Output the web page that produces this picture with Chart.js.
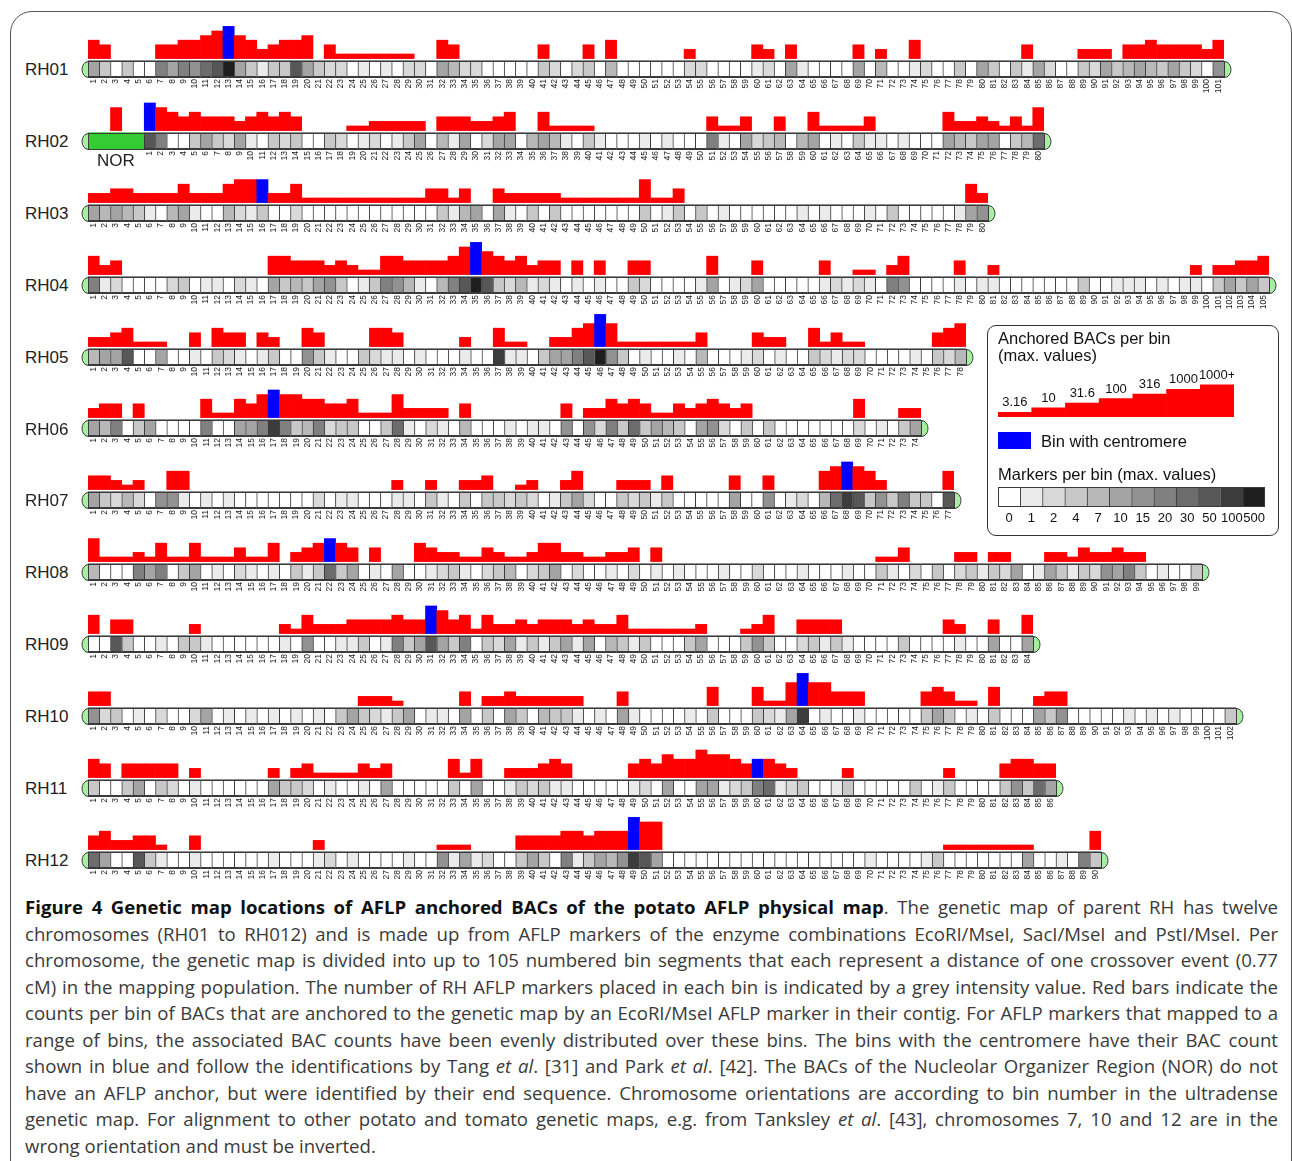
<!DOCTYPE html>
<html>
<head>
<meta charset="utf-8">
<script src="https://cdn.jsdelivr.net/npm/chart.js@4.4.0/dist/chart.umd.min.js"></script>
<style>
  html, body { margin:0; padding:0; background:#fff; }
  body { width:1292px; height:1161px; position:relative; overflow:hidden; font-family:"Liberation Sans", Arial, sans-serif; }
  .frame { position:absolute; left:10px; top:11px; width:1282px; height:1300px; border:1.5px solid #555; border-radius:22px; box-sizing:border-box; }
  .row { position:absolute; left:80px; }
  .rlab { position:absolute; left:25px; font-size:17px; line-height:20px; color:#222; }
  .nor { position:absolute; left:97px; top:151px; font-size:17px; line-height:20px; color:#222; }
  .legend { position:absolute; left:987px; top:325px; width:292px; height:211px; border:1.5px solid #333; border-radius:9px; box-sizing:border-box; }
  .ltxt { position:absolute; font-size:16.5px; line-height:18px; color:#111; white-space:nowrap; }
  .cap { position:absolute; left:25px; top:894px; width:1253px; font-family:"Open Sans", sans-serif; font-size:18.6px; line-height:26.55px; color:#3a3a3a; }
  .cap div { text-align:justify; text-align-last:justify; white-space:nowrap; }
  .cap div.last { text-align-last:left; }
  .cap b { color:#111; }
</style>
</head>
<body>
<div class="frame"></div>
<div id="rows"></div>
<div class="nor">NOR</div>

<div class="legend"></div>
<div class="ltxt" style="left:998px;top:329px;">Anchored BACs per bin</div>
<div class="ltxt" style="left:998px;top:346px;">(max. values)</div>
<canvas id="legBars" style="position:absolute;left:998px;top:360px;"></canvas>
<div style="position:absolute;left:998px;top:432px;width:33px;height:17px;background:#0000ff;"></div>
<div class="ltxt" style="left:1041px;top:432px;">Bin with centromere</div>
<div class="ltxt" style="left:998px;top:465px;">Markers per bin (max. values)</div>
<canvas id="legGrey" style="position:absolute;left:997px;top:487px;"></canvas>

<div class="cap">
  <div><b>Figure 4 Genetic map locations of AFLP anchored BACs of the potato AFLP physical map</b>. The genetic map of parent RH has twelve</div>
  <div>chromosomes (RH01 to RH012) and is made up from AFLP markers of the enzyme combinations EcoRI/MseI, SacI/MseI and PstI/MseI. Per</div>
  <div>chromosome, the genetic map is divided into up to 105 numbered bin segments that each represent a distance of one crossover event (0.77</div>
  <div>cM) in the mapping population. The number of RH AFLP markers placed in each bin is indicated by a grey intensity value. Red bars indicate the</div>
  <div>counts per bin of BACs that are anchored to the genetic map by an EcoRI/MseI AFLP marker in their contig. For AFLP markers that mapped to a</div>
  <div>range of bins, the associated BAC counts have been evenly distributed over these bins. The bins with the centromere have their BAC count</div>
  <div>shown in blue and follow the identifications by Tang <i>et al</i>. [31] and Park <i>et al</i>. [42]. The BACs of the Nucleolar Organizer Region (NOR) do not</div>
  <div>have an AFLP anchor, but were identified by their end sequence. Chromosome orientations are according to bin number in the ultradense</div>
  <div>genetic map. For alignment to other potato and tomato genetic maps, e.g. from Tanksley <i>et al</i>. [43], chromosomes 7, 10 and 12 are in the</div>
  <div class="last">wrong orientation and must be inverted.</div>
</div>

<script>
// BAC count class per bin (0 = none, 1..7 = 3.16 .. 1000+), marker class per bin (0..11 = 0 .. 500)
var chromosomes = ["RH01","RH02","RH03","RH04","RH05","RH06","RH07","RH08","RH09","RH10","RH11","RH12"];
var centromereBins = [13, 1, 16, 35, 46, 17, 68, 22, 31, 64, 60, 49];
var norBars = [0,0,5,0,0];

var rh01Bars = [4,3,0,0,0,0,3,3,4,4, 5,6,7,5,4,2,3,4,4,5, 0,3,1,1,1,1,1,1,1,0, 0,4,3,0,0,0,0,0,0,0,
  3,0,0,0,3,0,4,0,0,0, 0,0,0,2,0,0,0,0,0,3, 2,0,3,0,0,0,0,0,3,0, 2,0,0,4,0,0,0,0,0,0,
  0,0,0,3,0,0,0,0,2,2, 2,0,3,3,4,3,3,3,3,2, 4];
var rh01Markers = [5,3,0,3,0,0,7,5,7,6, 8,9,11,5,3,1,3,3,9,5, 3,2,2,0,1,0,1,0,2,2, 0,5,4,2,2,0,0,0,0,0,
  3,2,0,2,3,0,4,0,0,0, 0,0,0,2,2,0,0,0,0,1, 2,0,5,1,0,0,0,0,5,0, 4,0,0,1,2,0,0,3,0,5,
  3,0,3,1,5,2,0,0,3,2, 5,3,4,5,4,3,5,3,2,0, 6];

var rh02Bars = [6,5,4,3,4,3,3,3,2,3, 4,3,4,3,0,0,0,0,1,1, 2,2,2,2,2,0,3,3,3,2, 2,3,4,0,0,4,1,1,1,1,
  0,0,0,0,0,0,0,0,0,0, 3,1,1,3,0,0,3,0,0,4, 1,1,1,1,3,0,0,0,0,0, 0,4,2,2,3,2,1,3,1,5];
var rh02Markers = [9,7,0,0,3,5,3,2,5,1, 0,3,2,3,0,0,3,2,0,1, 2,0,1,3,5,0,4,1,5,0, 2,5,5,0,4,5,4,1,0,3,
  1,0,0,0,1,0,1,0,0,0, 7,1,0,5,2,3,4,0,4,5, 0,1,0,3,1,1,0,1,0,0, 0,5,4,3,5,5,0,3,4,8];

var rh03Bars = [2,2,3,3,2,2,2,2,4,2, 2,2,4,5,5,5,2,2,4,1, 1,1,1,1,1,1,1,1,1,1, 3,3,1,3,0,0,3,2,2,2,
  2,2,1,1,1,1,1,1,1,5, 1,1,3,0,0,0,0,0,0,0, 0,0,0,0,0,0,0,0,0,0, 0,0,0,0,0,0,0,0,4,2];
var rh03Markers = [5,4,5,4,3,1,0,4,5,1, 0,0,4,2,1,3,0,0,2,0, 0,0,0,0,0,0,0,0,0,0, 0,3,1,4,5,0,5,1,0,3,
  0,3,0,0,0,0,0,0,0,3, 0,1,3,0,3,0,1,0,0,0, 0,0,0,1,0,1,0,0,0,1, 0,3,0,0,0,0,0,1,5,6];

var rh04Bars = [4,2,3,0,0,0,0,0,0,0, 0,0,0,0,0,0,4,4,3,3, 3,2,3,2,1,1,4,4,3,3, 3,3,4,6,7,5,4,3,4,2,
  3,3,0,3,0,3,0,0,3,3, 0,0,0,0,0,4,0,0,0,3, 0,0,0,0,0,3,0,0,1,1, 0,2,4,0,0,0,0,3,0,0,
  2,0,0,0,0,0,0,0,0,0, 0,0,0,0,0,0,0,0,2,0, 2,2,3,3,4];
var rh04Markers = [7,1,2,0,0,0,0,2,3,0, 1,1,0,2,1,0,5,3,4,3, 5,6,3,0,1,3,7,6,4,1, 0,4,7,9,11,9,3,2,4,1,
  2,1,0,1,0,1,0,0,3,2, 0,0,0,0,1,5,0,1,2,5, 0,0,0,0,0,1,2,1,2,1, 0,7,6,0,0,0,0,1,0,1,
  1,0,0,0,0,0,0,0,3,0, 0,1,1,1,0,1,0,1,1,0, 3,5,3,5,3];

var rh05Bars = [2,2,3,4,1,1,1,0,0,3, 0,4,3,3,0,3,2,0,0,4, 3,0,0,0,0,4,4,3,0,0, 0,0,0,2,0,0,4,1,1,0,
  0,2,2,4,5,7,5,1,1,1, 1,1,1,1,3,0,0,0,0,3, 2,2,0,0,4,1,3,1,1,0, 0,0,0,0,0,3,4,5];
var rh05Markers = [4,5,5,9,0,0,5,0,0,1, 0,3,2,1,0,1,3,0,0,6, 3,1,0,0,3,2,1,1,0,1, 0,0,0,1,0,0,10,1,1,0,
  3,5,5,7,9,11,6,3,0,1, 0,0,1,0,4,0,0,0,1,2, 0,1,0,0,3,2,1,2,2,0, 0,0,0,1,0,3,2,4];

var rh06Bars = [2,3,3,0,3,0,0,0,0,0, 4,1,1,4,3,5,6,5,5,4, 4,3,3,4,1,1,1,5,2,2, 2,2,0,3,0,0,0,0,0,0,
  0,0,3,0,2,2,4,3,4,3, 1,1,3,2,3,4,3,2,3,0, 0,0,0,0,0,0,0,0,4,0, 0,0,2,2];
var rh06Markers = [5,4,7,0,3,5,0,0,0,0, 7,0,0,5,5,7,10,7,3,4, 7,2,3,3,0,0,3,8,1,0, 2,1,0,4,0,0,0,1,0,1,
  1,0,6,0,6,2,7,3,8,3, 5,4,3,0,5,6,2,0,3,0, 3,0,0,0,0,0,0,0,2,0, 1,0,3,5];

var rh07Bars = [3,3,2,1,2,0,0,4,4,0, 0,0,0,0,0,0,0,0,0,0, 0,0,0,0,0,0,0,2,0,0, 2,0,0,2,2,3,0,0,1,2,
  0,0,2,4,0,0,0,2,2,2, 0,3,0,0,0,0,0,3,0,0, 3,0,0,0,0,4,5,6,5,4, 2,0,0,0,0,0,4];
var rh07Markers = [5,3,2,4,2,0,6,6,1,0, 1,0,1,0,0,0,0,0,0,0, 2,0,1,1,0,0,0,1,1,0, 3,1,0,3,0,3,3,2,3,2,
  0,1,3,5,2,0,0,3,2,3, 1,3,0,0,0,0,0,5,0,0, 6,0,1,2,0,4,8,10,9,3, 6,3,7,3,3,0,9];

var rh08Bars = [5,1,1,1,2,1,4,1,1,4, 1,1,1,3,1,1,4,0,2,3, 4,5,4,3,0,3,0,0,0,4, 3,2,2,1,1,3,2,1,1,2,
  4,4,2,2,1,1,2,2,3,0, 3,0,0,0,0,0,0,0,0,0, 0,0,0,0,0,0,0,0,0,0, 1,1,3,0,0,0,0,2,2,0,
  2,2,0,0,0,2,2,1,3,2, 2,3,2,2,0,0,0,0,0];
var rh08Markers = [4,0,0,0,7,5,7,0,3,5, 0,1,0,2,1,0,1,0,3,1, 3,8,3,5,0,1,0,5,0,0, 1,2,3,1,0,2,3,4,0,2,
  3,5,0,2,0,0,1,0,2,0, 1,0,1,0,0,0,1,0,0,2, 0,0,0,1,0,0,0,1,0,0, 3,1,0,2,0,3,0,2,3,1,
  3,2,5,0,1,5,3,1,3,2, 6,5,7,3,0,1,0,0,3];

var rh09Bars = [4,0,3,3,0,0,0,0,0,2, 0,0,0,0,0,0,0,2,1,4, 2,2,2,3,3,3,3,4,3,3, 6,5,3,4,1,4,2,2,3,2,
  3,3,3,2,3,2,2,4,1,1, 1,1,1,1,2,0,0,0,1,2, 4,0,0,3,3,3,3,0,0,0, 0,0,0,0,0,0,3,2,0,0, 3,0,0,4];
var rh09Markers = [0,0,9,3,0,0,1,0,3,3, 1,0,0,0,0,0,0,1,0,6, 0,0,1,1,3,0,1,7,3,5, 9,5,3,7,0,3,2,5,1,3,
  1,3,5,1,5,0,4,3,1,3, 0,0,0,3,5,0,0,0,3,6, 3,0,0,2,3,1,3,1,0,0, 0,0,3,0,0,0,0,1,0,0, 5,0,0,5];

var rh10Bars = [3,3,0,0,0,0,0,0,0,0, 0,0,0,0,0,0,0,0,0,0, 0,0,0,0,2,2,2,1,0,0, 0,0,0,3,0,2,2,3,2,2,
  2,2,2,2,0,0,0,3,0,0, 0,0,0,0,0,4,0,0,0,4, 1,1,5,7,5,5,3,3,3,0, 0,0,0,0,3,4,3,1,1,0,
  4,0,0,0,2,3,3,0,0,0, 0,0,0,0,0,0,0,0,0,0, 0,0];
var rh10Markers = [6,2,3,0,1,0,2,0,0,2, 5,0,1,0,1,0,1,0,1,0, 1,0,3,5,3,2,1,3,5,0, 1,1,0,5,0,3,0,5,3,0,
  4,3,3,1,0,1,0,5,1,0, 0,0,0,1,0,3,0,0,0,3, 2,1,5,10,0,1,0,0,1,0, 0,0,0,0,3,5,3,0,1,0,
  3,0,0,0,5,3,6,0,0,0, 0,0,1,0,1,0,1,0,0,0, 0,3];

var rh11Bars = [4,3,0,3,3,3,3,3,0,2, 0,0,0,0,0,0,2,0,2,3, 1,1,1,1,3,2,3,0,0,0, 0,0,4,1,4,0,0,2,2,2,
  3,4,3,0,0,0,0,0,3,4, 3,5,4,4,6,5,5,4,3,4, 4,3,2,0,0,0,0,2,0,0, 0,0,0,0,0,0,2,0,0,0, 0,3,4,4,3,3];
var rh11Markers = [3,0,0,3,5,0,3,2,0,1, 0,0,0,0,0,0,5,3,3,2, 0,1,0,0,1,0,5,0,0,0, 0,0,3,0,5,0,0,1,3,2,
  3,1,1,0,0,0,0,0,1,2, 0,5,0,0,5,5,1,2,3,7, 8,1,2,3,0,0,1,3,0,0, 0,0,0,3,0,1,3,0,0,0, 0,3,6,3,8,5];

var rh12Bars = [3,4,2,2,3,3,1,0,0,3, 0,0,0,0,0,0,0,0,0,0, 2,0,0,0,0,0,0,0,0,0, 0,1,1,1,0,0,0,0,3,3,
  3,3,4,4,3,4,4,4,7,6, 6,0,0,0,0,0,0,0,0,0, 0,0,0,0,0,0,0,0,0,0, 0,0,0,0,0,0,1,1,1,1, 1,1,1,1,0,0,0,0,0,4];
var rh12Markers = [8,5,0,0,9,3,1,0,0,1, 0,0,0,0,0,0,1,0,0,0, 1,2,0,1,0,0,0,0,1,0, 0,6,1,5,1,2,0,0,3,5,
  3,0,7,1,3,5,4,6,10,9, 5,0,0,0,0,0,0,0,0,0, 0,0,0,0,0,0,0,0,0,1, 0,0,0,0,1,3,0,0,0,0, 0,0,0,5,0,0,1,0,7,3];

var barLevelLabels = ["3.16","10","31.6","100","316","1000","1000+"];
var barLevels = [1,2,3,4,5,6,7];
var markerClassLabels = ["0","1","2","4","7","10","15","20","30","50","100","500"];
var markerClasses = [0,1,2,3,4,5,6,7,8,9,10,11];

var allBars = [rh01Bars,rh02Bars,rh03Bars,rh04Bars,rh05Bars,rh06Bars,rh07Bars,rh08Bars,rh09Bars,rh10Bars,rh11Bars,rh12Bars];
var allMarkers = [rh01Markers,rh02Markers,rh03Markers,rh04Markers,rh05Markers,rh06Markers,rh07Markers,rh08Markers,rh09Markers,rh10Markers,rh11Markers,rh12Markers];

var RED = "#ff0000", BLUE = "#0000ff", NOR_GREEN = "#33cc33", CAP_GREEN = "#a4f0a0", OUTLINE = "#3a3a3a";
var GREYS = ["#ffffff","#ebebeb","#d9d9d9","#c8c8c8","#b8b8b8","#a4a4a4","#929292","#808080","#6c6c6c","#575757","#3c3c3c","#1e1e1e"];

var BIN_W = 11.25, CAP = 8, LV = 4.6;          // px per bin, end cap width, px per count class
var YMAX = 7.3, YMIN = -4.0, CELL_HI = -0.45, CELL_LO = -3.92;
var ROW_Y0 = 58.5, ROW_STEP = 71.9, ROW_H = 72, PAD_TOP = 2;

Chart.defaults.font.family = '"Liberation Sans", Arial, sans-serif';
Chart.defaults.animation = false;

// rounded green ends, the NOR block and the outline of the chromosome bar
var chromCaps = {
  id: "chromCaps",
  afterDatasetsDraw: function(chart, args, opts){
    var ca = chart.chartArea, ys = chart.scales.y, xs = chart.scales.x, c = chart.ctx;
    var t = Math.round(ys.getPixelForValue(CELL_HI)) + 0.5, b = Math.round(ys.getPixelForValue(CELL_LO)) + 0.5;
    var mid = (t+b)/2, ry = (b-t)/2, rx = CAP - 1.5;
    var l = Math.round(ca.left) + 0.5, r = Math.round(ca.right) + 0.5;
    c.save();
    if (opts.nor > 0){
      var nr = Math.round(xs.getPixelForValue(opts.nor - 0.5)) + 0.5;
      c.fillStyle = NOR_GREEN;
      c.fillRect(l, t, nr - l, b - t);
      c.strokeStyle = OUTLINE; c.lineWidth = 1;
      c.beginPath(); c.moveTo(nr, t); c.lineTo(nr, b); c.stroke();
    }
    c.strokeStyle = OUTLINE; c.lineWidth = 1; c.fillStyle = CAP_GREEN;
    c.beginPath(); c.ellipse(l, mid, rx, ry, 0, Math.PI/2, Math.PI*1.5); c.closePath(); c.fill(); c.stroke();
    c.beginPath(); c.ellipse(r, mid, rx, ry, 0, -Math.PI/2, Math.PI/2); c.closePath(); c.fill(); c.stroke();
    c.strokeRect(l, t, r-l, b-t);
    c.restore();
  }
};

function drawRow(r){
  var bars = allBars[r], markers = allMarkers[r];
  var nor = (r === 1) ? norBars : [];
  var nn = nor.length, n = nn + bars.length, cen = centromereBins[r];
  var labels = [], barVals = [], barCols = [], cellVals = [], cellCols = [];
  for (var i = 0; i < n; i++){
    var isNor = i < nn, bin = i - nn + 1;
    var v = isNor ? nor[i] : bars[bin-1];
    labels.push(isNor ? "" : String(bin));
    barVals.push(v > 0 ? v : null);
    barCols.push(!isNor && bin === cen ? BLUE : RED);
    cellVals.push([CELL_LO, CELL_HI]);
    cellCols.push(isNor ? NOR_GREEN : GREYS[markers[bin-1]]);
  }
  var w = Math.round(n*BIN_W + 2*CAP);
  var top = ROW_Y0 + r*ROW_STEP - YMAX*LV - PAD_TOP;

  var holder = document.createElement("div");
  holder.className = "row";
  holder.style.top = top + "px";
  var cv = document.createElement("canvas");
  cv.width = w; cv.height = ROW_H;
  cv.style.width = w + "px"; cv.style.height = ROW_H + "px";
  holder.appendChild(cv);
  document.getElementById("rows").appendChild(holder);

  var lab = document.createElement("div");
  lab.className = "rlab";
  lab.textContent = chromosomes[r];
  lab.style.top = (ROW_Y0 + r*ROW_STEP + 1.5) + "px";
  document.getElementById("rows").appendChild(lab);

  new Chart(cv, {
    type: "bar",
    data: {
      labels: labels,
      datasets: [
        { data: barVals, backgroundColor: barCols, borderWidth: 0, grouped: false,
          barPercentage: 1, categoryPercentage: 1 },
        { data: cellVals, backgroundColor: cellCols, borderColor: OUTLINE, grouped: false,
          borderSkipped: false, barPercentage: 1, categoryPercentage: 1,
          borderWidth: function(ctx){ return ctx.dataIndex < nn ? 0 : {top:1,bottom:1,left:1,right:0}; } }
      ]
    },
    options: {
      responsive: false, events: [],
      layout: { padding: { left: CAP, right: CAP, top: PAD_TOP, bottom: 0 } },
      plugins: { legend: { display: false }, tooltip: { enabled: false }, chromCaps: { nor: nn } },
      scales: {
        x: { grid: { display: false, drawTicks: false }, border: { display: false },
             ticks: { autoSkip: false, maxRotation: 90, minRotation: 90, padding: 2, color: "#222", font: { size: 8.5 } },
             afterFit: function(s){ s.height = ROW_H - PAD_TOP - (YMAX - YMIN)*LV; } },
        y: { display: false, min: YMIN, max: YMAX }
      }
    },
    plugins: [chromCaps]
  });
}

for (var r = 0; r < chromosomes.length; r++) drawRow(r);

// legend: BAC count classes as a staircase with values above each step
var stepLabels = {
  id: "stepLabels",
  afterDatasetsDraw: function(chart){
    var meta = chart.getDatasetMeta(0), c = chart.ctx;
    c.save();
    c.font = '13px "Liberation Sans", Arial, sans-serif';
    c.fillStyle = "#111"; c.textAlign = "center"; c.textBaseline = "bottom";
    meta.data.forEach(function(el, i){ c.fillText(barLevelLabels[i], el.x, el.y - 3); });
    c.restore();
  }
};
var lb = document.getElementById("legBars");
lb.width = 236; lb.height = 57; lb.style.width = "236px"; lb.style.height = "57px";
new Chart(lb, {
  type: "bar",
  data: { labels: barLevelLabels, datasets: [{ data: barLevels, backgroundColor: RED, borderWidth: 0, barPercentage: 1, categoryPercentage: 1 }] },
  options: {
    responsive: false, events: [],
    plugins: { legend: { display: false }, tooltip: { enabled: false } },
    scales: { x: { display: false }, y: { display: false, min: 0, max: 57/LV } }
  },
  plugins: [stepLabels]
});

// legend: marker count classes
var lg = document.getElementById("legGrey");
lg.width = 272; lg.height = 42; lg.style.width = "272px"; lg.style.height = "42px";
new Chart(lg, {
  type: "bar",
  data: { labels: markerClassLabels, datasets: [{ data: markerClasses.map(function(){ return [0,1]; }),
    backgroundColor: markerClasses.map(function(k){ return GREYS[k]; }), borderColor: OUTLINE,
    borderWidth: {top:1,bottom:1,left:1,right:0}, borderSkipped: false, barPercentage: 1, categoryPercentage: 1 }] },
  options: {
    responsive: false, events: [],
    layout: { padding: { left: 1, right: 1, top: 0 } },
    plugins: { legend: { display: false }, tooltip: { enabled: false } },
    scales: {
      x: { grid: { display: false, drawTicks: false }, border: { display: false },
           ticks: { autoSkip: false, maxRotation: 0, padding: 4, color: "#111", font: { size: 13 } },
           afterFit: function(s){ s.height = 22; } },
      y: { display: false, min: 0, max: 1 }
    }
  },
  plugins: [{ id: "greyOutline", afterDatasetsDraw: function(chart){
    var ca = chart.chartArea, c = chart.ctx;
    c.save(); c.strokeStyle = OUTLINE; c.lineWidth = 1;
    c.strokeRect(Math.round(ca.left)+0.5, Math.round(ca.top)+0.5, Math.round(ca.right-ca.left)-1, Math.round(ca.bottom-ca.top)-1);
    c.restore();
  } }]
});
</script>
</body>
</html>
